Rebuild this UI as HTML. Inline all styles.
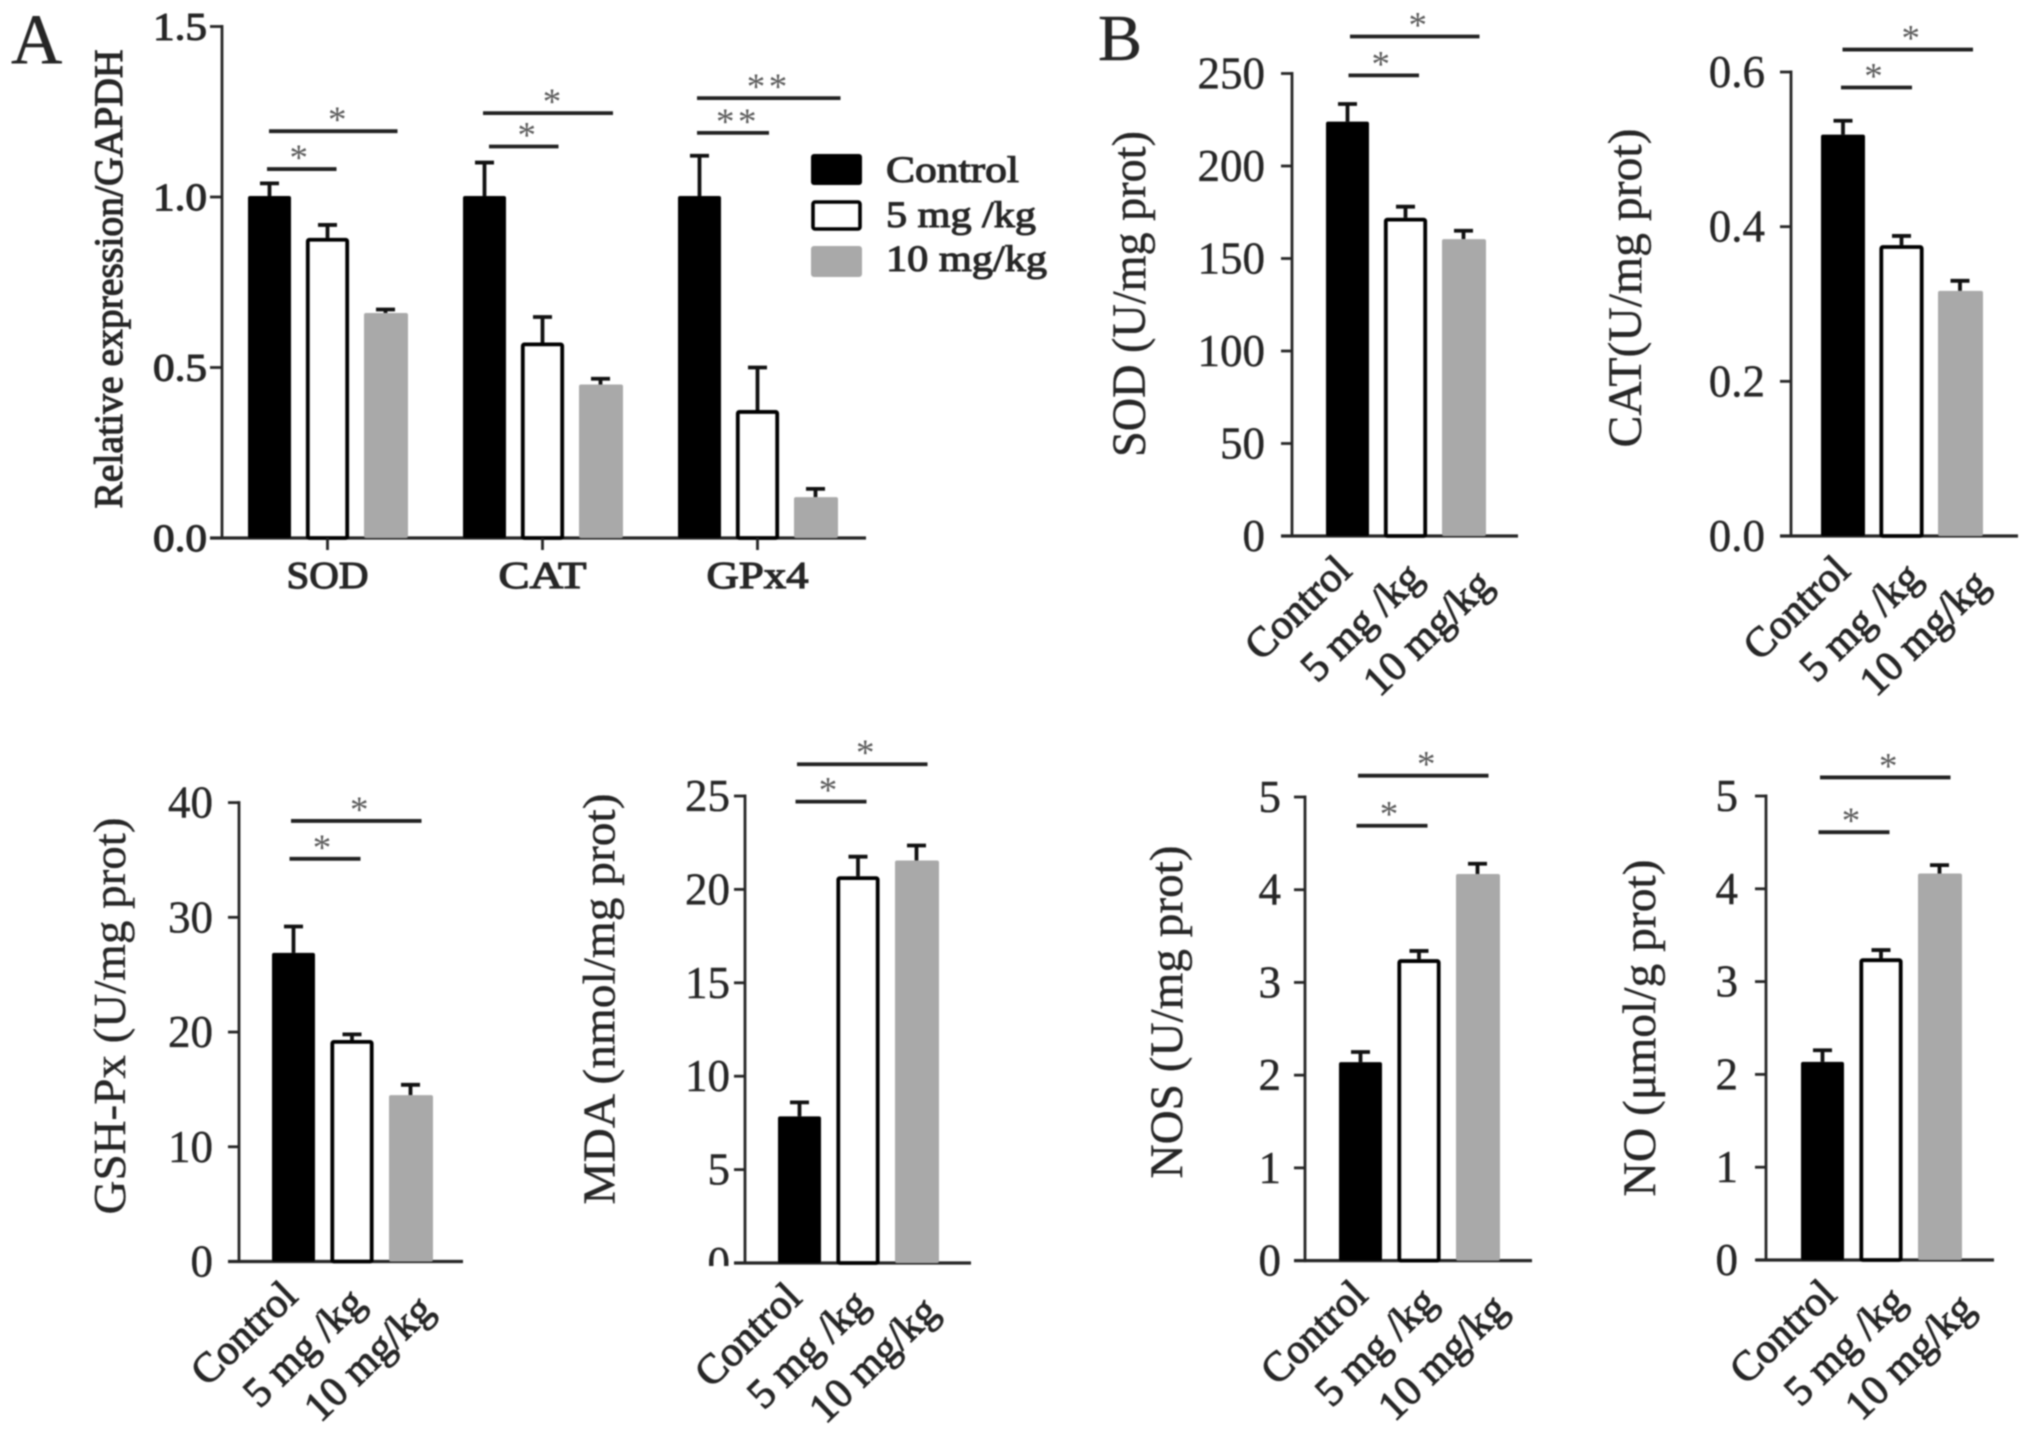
<!DOCTYPE html>
<html lang="en">
<head>
<meta charset="utf-8">
<title>Antioxidant markers by dose</title>
<style>
html,body{margin:0;padding:0;background:#fff;width:2031px;height:1441px;overflow:hidden}
svg{display:block;filter:blur(.7px)}
text{font-family:"Liberation Serif","DejaVu Serif",serif;fill:#262626;stroke:#262626;stroke-width:.4px}
</style>
</head>
<body>
<svg id="fig" width="2031" height="1441" viewBox="0 0 2031 1441" xmlns="http://www.w3.org/2000/svg">
  <defs><clipPath id="mda-zero-clip"><rect x="600" y="1200" width="150" height="66"></rect></clipPath></defs>
  <text x="11" y="63" font-size="71">A</text>
  <text x="1098" y="60" font-size="66">B</text>
</svg>
<script>
// ---- Data ----
const doseLabels = ['Control', '5 mg /kg', '10 mg/kg'];
const geneLabels = ['SOD', 'CAT', 'GPx4'];

const geneControlValues = [1.003, 1.003, 1.003];
const geneControlErrors = [0.037, 0.098, 0.118];
const gene5mgValues = [0.88, 0.573, 0.375];
const gene5mgErrors = [0.038, 0.075, 0.125];
const gene10mgValues = [0.66, 0.45, 0.12];
const gene10mgErrors = [0.01, 0.017, 0.024];
const geneSigLower = [1.082, 1.148, 1.188];
const geneSigUpper = [1.193, 1.246, 1.29];
const geneSigStars = ['*', '*', '**'];
const geneTicks = [0, 0.5, 1, 1.5];
const geneTickLabels = ['0.0', '0.5', '1.0', '1.5'];

const sodValues = [224, 172, 160.5];
const sodErrors = [9.5, 6, 4.5];
const sodSig = [249, 270];
const sodTicks = [0, 50, 100, 150, 200, 250];

const catValues = [0.519, 0.376, 0.317];
const catErrors = [0.018, 0.012, 0.013];
const catSig = [0.58, 0.629];
const catTicks = [0, 0.2, 0.4, 0.6];
const catTickLabels = ['0.0', '0.2', '0.4', '0.6'];

const gshValues = [26.9, 19.3, 14.5];
const gshErrors = [2.3, 0.5, 0.9];
const gshSig = [35.1, 38.4];
const gshTicks = [0, 10, 20, 30, 40];

const mdaValues = [7.85, 20.7, 21.55];
const mdaErrors = [0.75, 1.05, 0.8];
const mdaSig = [24.7, 26.7];
const mdaTicks = [0, 5, 10, 15, 20, 25];

const nosValues = [2.14, 3.25, 4.17];
const nosErrors = [0.11, 0.09, 0.11];
const nosSig = [4.69, 5.23];
const nosTicks = [0, 1, 2, 3, 4, 5];

const noValues = [2.135, 3.25, 4.165];
const noErrors = [0.125, 0.09, 0.09];
const noSig = [4.61, 5.2];
const noTicks = [0, 1, 2, 3, 4, 5];

// ---- Drawing ----
const svg = document.getElementById('fig');
const NS = 'http://www.w3.org/2000/svg';
const INK = '#262626';
const BAR_FILL = ['#000000', '#ffffff', '#a9a9a9'];
const BAR_NAME = ['control', '5mg', '10mg'];

function mk(tag, parent, name, interactive) {
  const el = document.createElementNS(NS, tag);
  
  
  parent.appendChild(el);
  return el;
}
function setA(el, o) { for (const k in o) el.setAttribute(k, o[k]); return el; }
function line(parent, name, x1, y1, x2, y2, w, color) {
  return setA(mk('line', parent, name, false), {x1, y1, x2, y2, stroke: color || INK, 'stroke-width': w});
}
function label(parent, name, str, x, y, size, opts) {
  const t = mk('text', parent, name, false);
  t.textContent = str;
  setA(t, {x, y, 'font-size': size});
  const o = opts || {};
  if (o.anchor) t.setAttribute('text-anchor', o.anchor);
  if (o.len) { t.setAttribute('textLength', o.len); t.setAttribute('lengthAdjust', 'spacingAndGlyphs'); }
  if (o.rot !== undefined) t.setAttribute('transform', 'rotate(' + o.rot + ' ' + x + ' ' + y + ')');
  if (o.fill) { t.style.fill = o.fill; t.style.stroke = 'none'; }
  if (o.weight) t.style.strokeWidth = o.weight + 'px';
  if (o.spacing) t.style.letterSpacing = o.spacing + 'px';
  return t;
}
function linearY(y0, yTop, domainMax) {
  return function (v) { return y0 - (y0 - yTop) * v / domainMax; };
}
function drawYAxis(g, p, y) {
  line(g, 'y-axis', p.axisX, p.y0 + 1.5, p.axisX, y(p.ticks[p.ticks.length - 1]) - 1.5, 2.8);
  line(g, 'x-axis', p.xAxisFrom, p.y0, p.xAxisTo, p.y0, 3.2);
  p.ticks.forEach(function (v, i) {
    line(g, 'y-tick', p.axisX - p.tickLen, y(v), p.axisX, y(v), 2.8);
    const text = p.tickLabels ? p.tickLabels[i] : String(v);
    const lab = label(g, 'y-tick-label', text, p.axisX - p.labelGap, y(v) + p.labelShift, p.tickSize, {anchor: 'end', len: p.tickWidth, weight: p.textWeight});
    if (p.clipZero && v === 0) lab.setAttribute('clip-path', 'url(#' + p.clipZero + ')');
  });
  label(g, 'y-axis-title', p.title, p.titleX, p.titleY, p.titleSize, {anchor: 'middle', rot: -90, len: p.titleLen, weight: p.titleWeight});
}
function drawBar(g, p, left, y, value, err, series) {
  const cx = left + p.barW / 2;
  const top = y(value);
  const tip = y(value + err);
  line(g, 'error-bar-' + BAR_NAME[series], cx, top, cx, tip, 3.8, '#111');
  line(g, 'error-cap-' + BAR_NAME[series], cx - 9.5, tip, cx + 9.5, tip, 3.8, '#111');
  const r = mk('rect', g, 'bar-' + BAR_NAME[series], false);
  if (series === 1) {
    setA(r, {x: left + 1.8, y: top + 1.8, width: p.barW - 3.6, height: Math.max(0, p.y0 - top - 1.8), rx: 1.5, fill: '#fff', stroke: '#000', 'stroke-width': 3.8});
  } else {
    setA(r, {x: left, y: top, width: p.barW + (series === 2 ? 1 : 0), height: Math.max(0, p.y0 - top), rx: 2, fill: BAR_FILL[series]});
  }
}
function drawSig(g, x1, x2, yPos, stars, name, starDx) {
  line(g, name + '-line', x1, yPos, x2, yPos, 3.8, '#222');
  label(g, name + '-star', stars, (x1 + x2) / 2 + starDx, yPos + 1, 37, {anchor: 'middle', fill: '#5a5a5a', spacing: stars.length > 1 ? 3.5 : 0});
}
function drawDosePanel(p) {
  const g = mk('g', svg, 'panel-' + p.key, false);
  const y = linearY(p.y0, p.yTop, p.ticks[p.ticks.length - 1]);
  drawYAxis(g, p, y);
  const centers = [];
  p.values.forEach(function (v, i) {
    const left = p.barLeft + i * p.step;
    centers.push(left + p.barW / 2);
    drawBar(g, p, left, y, v, p.errors[i], i);
  });
  const offX = [6, 19, 31];
  const offY = [37, 44, 51];
  doseLabels.forEach(function (txt, i) {
    label(g, 'x-label-' + BAR_NAME[i], txt, centers[i] + offX[i] + p.labelDx[i], p.y0 + offY[i], 42, {anchor: 'end', rot: -44, weight: 1});
  });
  drawSig(g, centers[0] + 1 + p.sigShift, centers[1] + 12.5 + p.sigShift + 1, y(p.sig[0]), '*', 'significance-lower', -3);
  drawSig(g, centers[0] + 2.5 + p.sigShift, centers[2] + 15 + p.sigShift + 1, y(p.sig[1]), '*', 'significance-upper', 3);
}

// Panel A: grouped bars
(function () {
  const p = {barW: 43, y0: 538, ticks: geneTicks, tickLabels: geneTickLabels, axisX: 222, xAxisFrom: 210, xAxisTo: 866,
    tickLen: 12, labelGap: 15, labelShift: 13, tickSize: 39, tickWidth: 54, textWeight: 1.1, title: 'Relative expression/GAPDH',
    titleX: 122, titleY: 279, titleSize: 40, titleLen: 459, titleWeight: 1.1};
  const g = mk('g', svg, 'panel-gene-expression', false);
  const y = linearY(p.y0, 26.5, 1.5);
  drawYAxis(g, p, y);
  const series = [[geneControlValues, geneControlErrors], [gene5mgValues, gene5mgErrors], [gene10mgValues, gene10mgErrors]];
  const lowerInset = [[-2.5, 9], [4.5, 16], [-2.5, 11.5]];
  const upperInset = [[-0.5, 12], [-1.5, 12.5], [-2.5, 25]];
  const lowerStarDx = [-3, 3, 5];
  const upperStarDx = [4, 4, 0];
  const labelLens = [82, 88, 102];
  geneLabels.forEach(function (gene, k) {
    const left0 = 248 + k * 215;
    const gg = mk('g', g, 'group-' + gene.toLowerCase(), false);
    series.forEach(function (s, i) {
      drawBar(gg, p, left0 + i * 58, y, s[0][k], s[1][k], i);
    });
    const c0 = left0 + p.barW / 2;
    const tickX = c0 + 58;
    line(g, 'x-tick', tickX, p.y0, tickX, p.y0 + 12, 2.8);
    label(g, 'x-label', gene, tickX, 588, 38, {anchor: 'middle', len: labelLens[k], weight: 1.2});
    drawSig(gg, c0 + lowerInset[k][0], c0 + 58 + lowerInset[k][1], y(geneSigLower[k]), geneSigStars[k], 'significance-lower', lowerStarDx[k]);
    drawSig(gg, c0 + upperInset[k][0], c0 + 116 + upperInset[k][1], y(geneSigUpper[k]), geneSigStars[k], 'significance-upper', upperStarDx[k]);
  });
  // Legend
  const lg = mk('g', svg, 'legend', false);
  const swatchY = [154, 200, 246];
  const textY = [182, 227, 271];
  const textLen = [133, 150, 161];
  doseLabels.forEach(function (txt, i) {
    const e = mk('g', lg, 'legend-entry-' + BAR_NAME[i], false);
    const r = mk('rect', e, 'legend-swatch', false);
    if (i === 1) {
      setA(r, {x: 813, y: swatchY[i] + 2, width: 47, height: 27, rx: 2, fill: '#fff', stroke: '#000', 'stroke-width': 3.6});
    } else {
      setA(r, {x: 811, y: swatchY[i], width: 51, height: 31, rx: 3, fill: BAR_FILL[i]});
    }
    label(e, 'legend-label', txt, 886, textY[i], 37, {len: textLen[i], weight: 1.1});
  });
})();

// Panel B and lower panels
const panels = [
  {key: 'sod', values: sodValues, errors: sodErrors, sig: sodSig, ticks: sodTicks, axisX: 1292, y0: 536, yTop: 73.5,
   xAxisFrom: 1281, xAxisTo: 1518, barLeft: 1326, step: 58, barW: 43, tickLen: 11, labelGap: 27, labelShift: 15, tickSize: 45,
   labelDx: [0, 0, 0], sigShift: 0,
   title: 'SOD (U/mg prot)', titleX: 1145, titleY: 294, titleSize: 48, titleLen: 326},
  {key: 'cat', values: catValues, errors: catErrors, sig: catSig, ticks: catTicks, tickLabels: catTickLabels, axisX: 1791, y0: 536, yTop: 72,
   xAxisFrom: 1780, xAxisTo: 2018, barLeft: 1821, step: 58.5, barW: 44, tickLen: 11, labelGap: 26, labelShift: 15, tickSize: 45,
   labelDx: [3, 3, 0], sigShift: -3,
   title: 'CAT(U/mg prot)', titleX: 1641, titleY: 288, titleSize: 48, titleLen: 319},
  {key: 'gsh-px', values: gshValues, errors: gshErrors, sig: gshSig, ticks: gshTicks, axisX: 239, y0: 1261.5, yTop: 802.6,
   xAxisFrom: 228, xAxisTo: 463, barLeft: 272, step: 58.5, barW: 43, tickLen: 11, labelGap: 26, labelShift: 15, tickSize: 45,
   labelDx: [0, -4, -6], sigShift: -5,
   title: 'GSH-Px (U/mg prot)', titleX: 125, titleY: 1016, titleSize: 46, titleLen: 397},
  {key: 'mda', values: mdaValues, errors: mdaErrors, sig: mdaSig, ticks: mdaTicks, axisX: 745, y0: 1263, yTop: 796,
   xAxisFrom: 734, xAxisTo: 971, barLeft: 778, step: 58.5, barW: 43, tickLen: 11, labelGap: 15, labelShift: 15, tickSize: 45, clipZero: 'mda-zero-clip',
   labelDx: [-2, -6, -7], sigShift: -5,
   title: 'MDA (nmol/mg prot)', titleX: 614.5, titleY: 999, titleSize: 46, titleLen: 411},
  {key: 'nos', values: nosValues, errors: nosErrors, sig: nosSig, ticks: nosTicks, axisX: 1305, y0: 1260.6, yTop: 797,
   xAxisFrom: 1294, xAxisTo: 1532, barLeft: 1339, step: 58.5, barW: 43, tickLen: 11, labelGap: 24, labelShift: 15, tickSize: 45,
   labelDx: [3, 1, 1], sigShift: -5,
   title: 'NOS (U/mg prot)', titleX: 1182, titleY: 1012, titleSize: 47, titleLen: 333},
  {key: 'no', values: noValues, errors: noErrors, sig: noSig, ticks: noTicks, axisX: 1766, y0: 1260, yTop: 796,
   xAxisFrom: 1756, xAxisTo: 1994, barLeft: 1801, step: 58.5, barW: 43, tickLen: 11, labelGap: 28, labelShift: 15, tickSize: 45,
   labelDx: [10, 8, 6], sigShift: -5,
   title: 'NO (\u03bcmol/g prot)', titleX: 1655, titleY: 1028, titleSize: 47, titleLen: 337}
];
panels.forEach(drawDosePanel);
</script>
</body>
</html>
